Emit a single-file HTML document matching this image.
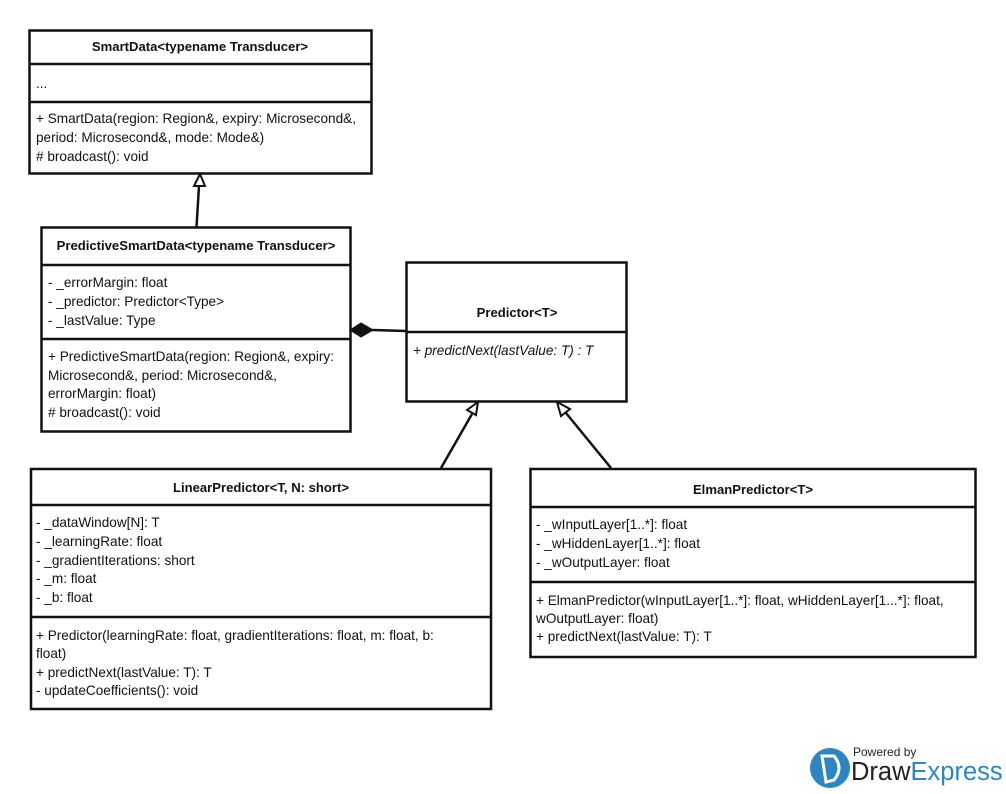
<!DOCTYPE html>
<html><head><meta charset="utf-8"><style>
html,body{margin:0;padding:0;background:#fff;}
svg{display:block;}
text{font-family:"Liberation Sans",Arial,sans-serif;font-size:13.6px;fill:#111;}
.b{font-weight:bold;font-size:13.1px;}
.i{font-style:italic;}
</style></head><body>
<svg width="1006" height="794" viewBox="0 0 1006 794" xmlns="http://www.w3.org/2000/svg">
<g fill="#fff" stroke="#111" stroke-width="2.5">
<rect x="29.5" y="30.5" width="342" height="143"/>
<line x1="29.5" y1="64" x2="371.5" y2="64"/>
<line x1="29.5" y1="102" x2="371.5" y2="102"/>
<rect x="41.5" y="227.5" width="309" height="204"/>
<line x1="41.5" y1="265" x2="350.5" y2="265"/>
<line x1="41.5" y1="339" x2="350.5" y2="339"/>
<rect x="406.5" y="262.5" width="220" height="139"/>
<line x1="406.5" y1="332" x2="626.5" y2="332"/>
<rect x="31" y="469" width="460" height="240"/>
<line x1="31" y1="505" x2="491" y2="505"/>
<line x1="31" y1="617" x2="491" y2="617"/>
<rect x="530.5" y="469" width="445" height="188"/>
<line x1="530.5" y1="507" x2="975.5" y2="507"/>
<line x1="530.5" y1="582" x2="975.5" y2="582"/>
</g>
<g stroke="#111" stroke-width="2.5" fill="none">
<line x1="196.5" y1="227" x2="199" y2="186"/>
<line x1="372" y1="330" x2="406" y2="331"/>
<line x1="441" y1="468" x2="472" y2="414"/>
<line x1="611" y1="468" x2="566" y2="413"/>
</g>
<g stroke="#111" stroke-width="2" fill="#fff">
<polygon points="200,174 194,186 205,186"/>
<polygon points="478,402 467,410 476,415"/>
<polygon points="557,402 561,416 570,409"/>
</g>
<polygon points="350,330 361,323 373,330 361,337" fill="#111" stroke="#111" stroke-width="1"/>

<text class="b" x="200" y="51" text-anchor="middle">SmartData&lt;typename Transducer&gt;</text>
<text x="36" y="88">...</text>
<text x="36" y="123">+ SmartData(region: Region&amp;, expiry: Microsecond&amp;,</text>
<text x="36" y="142">period: Microsecond&amp;, mode: Mode&amp;)</text>
<text x="36" y="161"># broadcast(): void</text>

<text class="b" x="196" y="250" text-anchor="middle">PredictiveSmartData&lt;typename Transducer&gt;</text>
<text x="48" y="287">- _errorMargin: float</text>
<text x="48" y="306">- _predictor: Predictor&lt;Type&gt;</text>
<text x="48" y="325">- _lastValue: Type</text>
<text x="48" y="361">+ PredictiveSmartData(region: Region&amp;, expiry:</text>
<text x="48" y="380">Microsecond&amp;, period: Microsecond&amp;,</text>
<text x="48" y="398">errorMargin: float)</text>
<text x="48" y="417"># broadcast(): void</text>

<text class="b" x="517" y="317" text-anchor="middle">Predictor&lt;T&gt;</text>
<text class="i" x="413" y="355">+ predictNext(lastValue: T) : T</text>

<text class="b" x="261" y="492" text-anchor="middle">LinearPredictor&lt;T, N: short&gt;</text>
<text x="36" y="527">- _dataWindow[N]: T</text>
<text x="36" y="546">-  _learningRate: float</text>
<text x="36" y="565">- _gradientIterations: short</text>
<text x="36" y="583">- _m: float</text>
<text x="36" y="602">- _b: float</text>
<text x="36" y="640">+ Predictor(learningRate: float, gradientIterations: float, m: float, b:</text>
<text x="36" y="658">float)</text>
<text x="36" y="677">+ predictNext(lastValue: T): T</text>
<text x="36" y="695">- updateCoefficients(): void</text>

<text class="b" x="753" y="494" text-anchor="middle">ElmanPredictor&lt;T&gt;</text>
<text x="536" y="529">- _wInputLayer[1..*]: float</text>
<text x="536" y="548">- _wHiddenLayer[1..*]: float</text>
<text x="536" y="567">- _wOutputLayer: float</text>
<text x="536" y="605">+ ElmanPredictor(wInputLayer[1..*]: float, wHiddenLayer[1...*]: float,</text>
<text x="536" y="623">wOutputLayer: float)</text>
<text x="536" y="641">+ predictNext(lastValue: T): T</text>

<circle cx="830" cy="768" r="20" fill="#2e86c1"/>
<path d="M822 756 L834 756 Q844 768 834 780 L826 782 Z" fill="none" stroke="#fff" stroke-width="3"/>
<text x="853" y="756" style="font-size:12px;fill:#222">Powered by</text>
<text x="851" y="780" style="font-size:25.5px;fill:#222">Draw<tspan style="fill:#2e86c1">Express</tspan></text>
</svg>
</body></html>
